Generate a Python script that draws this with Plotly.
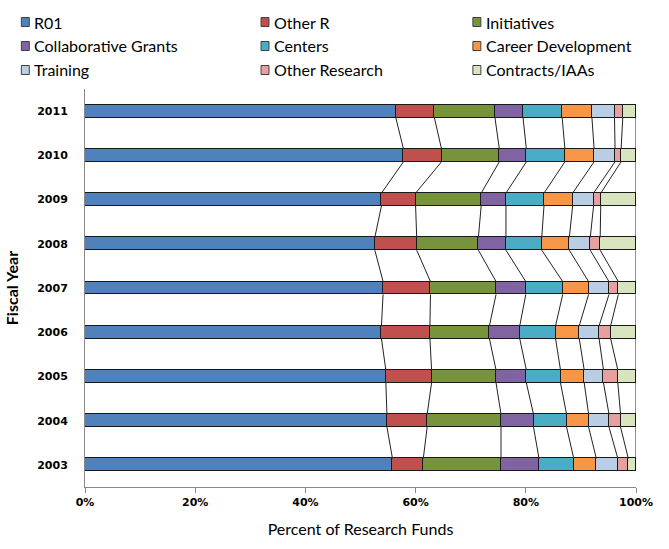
import plotly.graph_objects as go

years = ["2003", "2004", "2005", "2006", "2007", "2008", "2009", "2010", "2011"]
series = ["R01", "Other R", "Initiatives", "Collaborative Grants", "Centers",
          "Career Development", "Training", "Other Research", "Contracts/IAAs"]
colors = ["#4F81BD", "#C0504D", "#77933C", "#8064A2", "#4BACC6",
          "#F79646", "#B9CDE5", "#E6A0A0", "#D7E4BD"]

r01 =        [55.8, 54.8, 54.6, 53.8, 54.1, 52.6, 53.8, 57.8, 56.4]
other_r =    [5.6, 7.3, 8.3, 8.8, 8.6, 7.6, 6.2, 6.9, 7.0]
initiatives = [14.1, 13.4, 11.7, 10.8, 11.9, 11.2, 11.9, 10.5, 11.0]
collab =     [6.9, 5.9, 5.5, 5.5, 5.4, 5.0, 4.5, 4.9, 5.1]
centers =    [6.3, 6.0, 6.2, 6.5, 6.7, 6.5, 6.9, 7.0, 7.1]
career =     [4.1, 4.0, 4.3, 4.3, 4.7, 5.0, 5.2, 5.3, 5.4]
training =   [3.9, 3.7, 3.5, 3.6, 3.7, 3.8, 3.8, 3.8, 4.1]
other_res =  [1.9, 2.1, 2.6, 2.1, 1.7, 1.8, 1.3, 1.1, 1.5]
contracts =  [1.4, 2.8, 3.3, 4.6, 3.2, 6.5, 6.4, 2.7, 2.4]

values = [r01, other_r, initiatives, collab, centers, career, training, other_res, contracts]

# normalise each year to 100%
totals = [sum(v[i] for v in values) for i in range(len(years))]
pct = [[v[i] / totals[i] * 100 for i in range(len(years))] for v in values]

ypos = list(range(len(years)))
bar_w = 0.29

fig = go.Figure()
for name, col, vals in zip(series, colors, pct):
    fig.add_trace(go.Bar(
        y=ypos, x=vals, name=name, orientation="h", width=bar_w,
        marker=dict(color=col, line=dict(color="#1a1a1a", width=1)),
        showlegend=False, hoverinfo="x+name"))

# series lines connecting boundaries between adjacent bars
lx, ly = [], []
for k in range(len(series)):
    cum = [sum(pct[j][i] for j in range(k + 1)) for i in range(len(years))]
    for i in range(len(years) - 1):
        lx += [cum[i], cum[i + 1], None]
        ly += [ypos[i] + bar_w / 2, ypos[i + 1] - bar_w / 2, None]
fig.add_trace(go.Scatter(x=lx, y=ly, mode="lines", line=dict(color="#222222", width=1),
                         showlegend=False, hoverinfo="skip"))

L, R, T, B = 82, 33, 89, 62
W, H = 669, 549
pw, ph = W - L - R, H - T - B

def px2x(px):
    return (px - L) / pw

def py2y(py):
    return (H - B - py) / ph

# manual legend: 3 columns x 3 rows
col_x = [22, 263, 476]
row_y = [22, 46, 70]
shapes = []
annotations = []
for idx, (name, col) in enumerate(zip(series, colors)):
    r, c = divmod(idx, 3)
    cx, cy = col_x[c], row_y[r]
    shapes.append(dict(type="rect", xref="paper", yref="paper",
                       x0=px2x(cx - 4), x1=px2x(cx + 4), y0=py2y(cy + 4.5), y1=py2y(cy - 4.5),
                       fillcolor=col, line=dict(color="#404040", width=1)))
    annotations.append(dict(xref="paper", yref="paper", x=px2x(cx + 7), y=py2y(cy),
                            text=name, showarrow=False, xanchor="left", yanchor="middle",
                            font=dict(family="Lato", size=16, color="#000000")))

fig.update_layout(
    width=W, height=H,
    margin=dict(l=L, r=R, t=T, b=B),
    barmode="stack", bargap=0,
    plot_bgcolor="white", paper_bgcolor="white",
    shapes=shapes, annotations=annotations,
    xaxis=dict(range=[0, 100], tickvals=[0, 20, 40, 60, 80, 100],
               ticktext=["0%", "20%", "40%", "60%", "80%", "100%"],
               showgrid=False, zeroline=False, showline=True, linecolor="#888888",
               ticks="outside", ticklen=5, tickcolor="#888888",
               tickfont=dict(family="DejaVu Sans", size=11, color="#000000", weight="bold"),
               title=dict(text="Percent of Research Funds", standoff=15,
                          font=dict(family="Lato", size=16, color="#000000"))),
    yaxis=dict(range=[-0.5, len(years) - 0.5], tickvals=ypos, ticktext=years,
               showgrid=False, zeroline=False, showline=True, linecolor="#888888",
               ticks="", ticklabelstandoff=14,
               tickfont=dict(family="DejaVu Sans", size=11, color="#000000", weight="bold"),
               title=dict(text="Fiscal Year", standoff=14,
                          font=dict(family="Lato", size=16, color="#000000", weight="bold"))),
)

fig.write_html("out.html")
